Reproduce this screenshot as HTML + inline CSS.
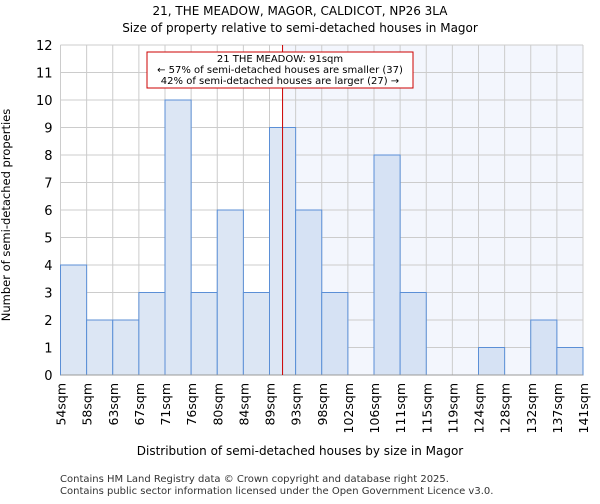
<!DOCTYPE html>
<html><head><meta charset="utf-8"><style>
body{margin:0;background:#fff;font-family:"DejaVu Sans","Liberation Sans",sans-serif;}
</style></head><body>
<svg width="600" height="500" font-family="DejaVu Sans, Liberation Sans, sans-serif">
<text x="300" y="15" text-anchor="middle" font-size="12">21, THE MEADOW, MAGOR, CALDICOT, NP26 3LA</text>
<text x="300" y="32" text-anchor="middle" font-size="12">Size of property relative to semi-detached houses in Magor</text>
<g id="plot"></g>
<text x="300" y="455" text-anchor="middle" font-size="12">Distribution of semi-detached houses by size in Magor</text>
<text transform="translate(10,215) rotate(-90)" text-anchor="middle" font-size="11.5">Number of semi-detached properties</text>
<text x="60" y="482" font-size="10" fill="#333">Contains HM Land Registry data © Crown copyright and database right 2025.</text>
<text x="60" y="494" font-size="10" fill="#333">Contains public sector information licensed under the Open Government Licence v3.0.</text>
</svg>
<script>
const categories=["54sqm","58sqm","63sqm","67sqm","71sqm","76sqm","80sqm","84sqm","89sqm","93sqm","98sqm","102sqm","106sqm","111sqm","115sqm","119sqm","124sqm","128sqm","132sqm","137sqm","141sqm"];
const counts=[4,2,2,3,10,3,6,3,9,6,3,0,8,3,0,0,1,0,2,1];
const yTicks=[0,1,2,3,4,5,6,7,8,9,10,11,12];
const markerBin=8.5;
const NS="http://www.w3.org/2000/svg";
const g=document.getElementById('plot');
const X0=60.5,X1=583,Y0=375,Y1=45,yMax=12;
const bw=(X1-X0)/counts.length;
const xs=i=>X0+i*bw;
const ys=v=>Y0-(v/yMax)*(Y0-Y1);
function mk(t,a){const e=document.createElementNS(NS,t);for(const k in a)e.setAttribute(k,a[k]);g.appendChild(e);return e;}
const mx=xs(markerBin);
let e=mk('rect',{x:mx,y:Y1,width:X1-mx,height:Y0-Y1,fill:'#f3f6fd'});


yTicks.forEach(v=>{const l=mk('line',{x1:X0,x2:X1,y1:ys(v),y2:ys(v),stroke:'#cccccc','stroke-width':1});


const t=mk('text',{x:X0-8,y:ys(v)+5,'text-anchor':'end','font-size':'13'});t.textContent=v;

});
categories.forEach((c,i)=>{const l=mk('line',{x1:xs(i),x2:xs(i),y1:Y1,y2:Y0,stroke:'#cccccc','stroke-width':1});


const t=mk('text',{transform:`translate(${xs(i)+5},${Y0+8}) rotate(-90)`,'text-anchor':'end','font-size':'12.5'});t.textContent=c;

});
counts.forEach((v,i)=>{if(v<=0)return;const r=mk('rect',{x:xs(i),y:ys(v),width:bw,height:Y0-ys(v),fill:i>=9?'#d6e2f4':'#dce6f4',stroke:'#5b8fd6','stroke-width':1});

});
e=mk('line',{x1:X0,x2:X1,y1:Y0,y2:Y0,stroke:'#999','stroke-width':1});


e=mk('line',{x1:mx,x2:mx,y1:Y1,y2:Y0,stroke:'#cc0000','stroke-width':1});


e=mk('rect',{x:147,y:52,width:266,height:36,fill:'#fff',stroke:'#cc0000','stroke-width':1});


[["21 THE MEADOW: 91sqm",62],["← 57% of semi-detached houses are smaller (37)",73],["42% of semi-detached houses are larger (27) →",84]].forEach(([s,y])=>{const t=mk('text',{x:280,y:y,'text-anchor':'middle','font-size':'10'});t.textContent=s;

});
</script>
</body></html>
